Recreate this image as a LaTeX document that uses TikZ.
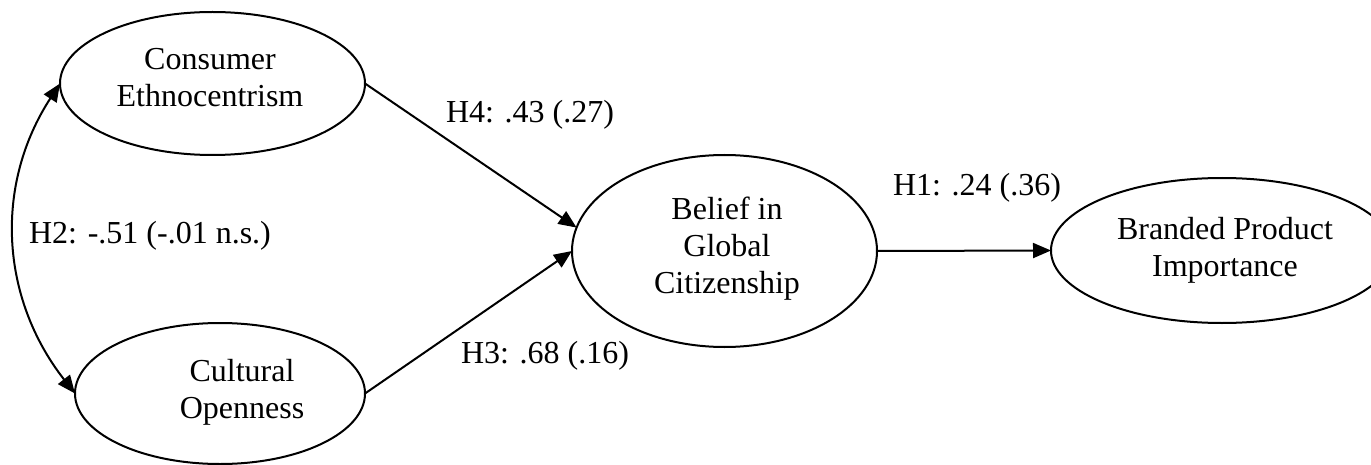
\documentclass[tikz,border=0pt]{standalone}
\usepackage{fontspec}
\setmainfont{Liberation Serif}
\usetikzlibrary{shapes.geometric,arrows.meta}
\begin{document}
\begin{tikzpicture}[x=0.5pt,y=-0.5pt,
  every node/.style={font=\fontsize{16}{18.5}\selectfont},
  construct/.style={draw,ellipse,line width=1pt,inner sep=0pt,outer sep=0pt},
  ctext/.style={align=center,inner sep=0pt},
  lbl/.style={anchor=base,inner sep=0pt},
  arr/.style={line width=1pt,-{Triangle[length=9pt,width=7.5pt]}},
  darr/.style={line width=1pt,{Triangle[length=9pt,width=7.5pt]}-{Triangle[length=9pt,width=7.5pt]}}
]
\useasboundingbox (0,0) rectangle (1371,465);
% ellipses
\node[construct,minimum width=152.5pt,minimum height=71.5pt] (ce) at (212.5,83.5) {};
\node[construct,minimum width=145pt,minimum height=70.5pt] (co) at (220,393.5) {};
\node[construct,minimum width=152.5pt,minimum height=96pt] (be) at (724.5,251) {};
\node[construct,minimum width=171pt,minimum height=72.5pt] (bp) at (1222,250.5) {};
% texts
\node[ctext] (ceT) at (210,77.5) {Consumer\\Ethnocentrism};
\node[ctext] (coT) at (242,392.5) {Cultural\\Openness};
\node[ctext] (beT) at (727,249) {Belief in\\Global\\Citizenship};
\node[ctext] (bpT) at (1225,250.5) {Branded Product\\Importance};
% connectors
\draw[arr] (ce.east) -- (be.171);
\draw[arr] (co.east) -- (be.west);
\draw[arr] (be.east) -- (bp.west);
\draw[darr] (ce.west) to[out=237,in=128] (co.west);
% labels
\node[lbl] (h4) at (530,123) {H4: .43 (.27)};
\node[lbl] (h3) at (545,363) {H3: .68 (.16)};
\node[lbl] (h1) at (977,195) {H1: .24 (.36)};
\node[lbl] (h2) at (150,243) {H2: -.51 (-.01 n.s.)};
\end{tikzpicture}
\end{document}
